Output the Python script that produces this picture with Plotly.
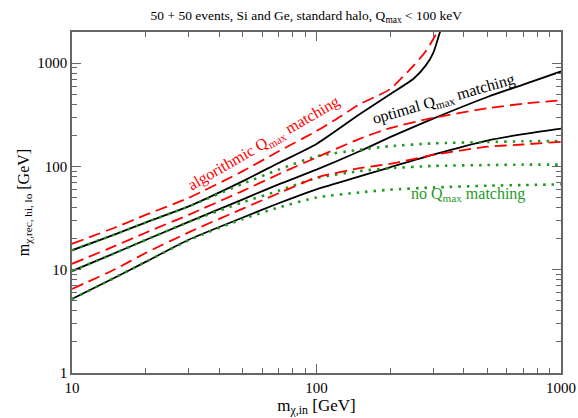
import plotly.graph_objects as go

# ---- data ----
x_std = [10, 15, 20, 30, 50, 70, 100, 150, 200, 300, 500, 700, 1000]

black_low = [5.2, 8.4, 11.9, 19.5, 32, 44, 60, 80, 98, 130, 178, 205, 232]
black_mid = [9.7, 14.5, 19.4, 29, 48, 67, 93, 140, 192, 290, 470, 620, 830]
x_black_top = [10, 15, 20, 30, 50, 70, 100, 150, 200, 250, 280, 300, 320, 340]
black_top = [15.4, 22, 28.6, 41, 72, 108, 165, 320, 500, 710, 950, 1250, 2000, 3000]

red_low = [6.5, 10.1, 14.5, 23, 39, 55, 78, 96, 106, 129, 155, 163, 173]
red_mid = [11.4, 17, 22.8, 34, 58, 84, 122, 185, 235, 295, 365, 405, 437]
x_red_top = [10, 15, 20, 30, 50, 70, 100, 120, 150, 180, 200, 250, 280, 300, 315, 330]
red_top = [17.8, 25.6, 33.9, 49.6, 90, 140, 220, 285, 400, 490, 560, 950, 1300, 1700, 2100, 2800]

green_low = [5.2, 8.4, 11.9, 19.3, 31, 40, 50, 56, 59.5, 62.5, 65, 66, 67]
green_mid = [9.7, 14.5, 19.4, 29, 45, 58, 77, 90, 96, 101, 103, 104, 104]
green_top = [15.4, 22, 28.6, 41, 68, 93, 125, 145, 157, 167, 172, 175, 176]

y_ticks = [1, 10, 100, 1000]
x_ticks = [10, 100, 1000]

FONT = "Liberation Serif"
RED = "#ff0000"
GREEN = "#1f9a1f"

fig = go.Figure()

def add(x, y, color, dash, width):
    fig.add_trace(go.Scatter(x=x, y=y, mode="lines", showlegend=False,
                             line=dict(color=color, dash=dash, width=width, shape="spline", smoothing=0.6),
                             hoverinfo="skip"))

for yy in (black_low, black_mid):
    add(x_std, yy, "black", "solid", 1.8)
add(x_black_top, black_top, "black", "solid", 1.8)
for yy in (green_low, green_mid, green_top):
    add(x_std, yy, GREEN, "2.5px,6px", 2.6)
for yy in (red_low, red_mid):
    add(x_std, yy, RED, "12px,6px", 1.8)
add(x_red_top, red_top, RED, "12px,6px", 1.8)

def minor_vals(lo, hi):
    vals = []
    d = lo
    while d < hi:
        vals += [d * k for k in range(2, 10)]
        d *= 10
    return vals

axis_common = dict(
    type="log", showgrid=False, zeroline=False, automargin=False,
    showline=True, linecolor="#666", linewidth=1.5, mirror="allticks",
    ticks="inside", ticklen=9, tickwidth=1, tickcolor="#666",
    tickfont=dict(family=FONT, size=15, color="black"),
)

fig.update_xaxes(**axis_common, range=[1, 3], tickmode="array", tickvals=x_ticks,
                 ticktext=[str(v) for v in x_ticks],
                 minor=dict(tickmode="array", tickvals=minor_vals(10, 1000), ticks="inside",
                            ticklen=5, tickcolor="#666", showgrid=False),
                 title=dict(text="m<sub>χ,in</sub> [GeV]", font=dict(family=FONT, size=17, color="black"),
                            standoff=2))
fig.update_yaxes(**axis_common, range=[0, 3.301], tickmode="array", tickvals=y_ticks,
                 ticktext=[str(v) for v in y_ticks],
                 minor=dict(tickmode="array", tickvals=minor_vals(1, 2000), ticks="inside",
                            ticklen=5, tickcolor="#666", showgrid=False),
                 title=dict(text="m<sub>χ,rec, hi, lo</sub> [GeV]", font=dict(family=FONT, size=16, color="black"),
                            standoff=4))

fig.add_annotation(x=1.787, y=2.22, xref="x", yref="y", text="algorithmic Q<sub>max</sub> matching",
                   showarrow=False, textangle=-30, font=dict(family=FONT, size=16, color=RED))
fig.add_annotation(x=2.52, y=2.65, xref="x", yref="y", text="optimal Q<sub>max</sub> matching",
                   showarrow=False, textangle=-16, font=dict(family=FONT, size=16, color="black"))
fig.add_annotation(x=2.62, y=1.73, xref="x", yref="y", text="no Q<sub>max</sub> matching",
                   showarrow=False, font=dict(family=FONT, size=16, color=GREEN))

fig.update_layout(
    width=578, height=418,
    margin=dict(l=72, r=17, t=32, b=45),
    paper_bgcolor="white", plot_bgcolor="white",
    title=dict(text="50 + 50 events, Si and Ge, standard halo, Q<sub>max</sub> < 100 keV",
               x=0.53, xanchor="center", y=0.975, yanchor="top",
               font=dict(family=FONT, size=13.5, color="black")),
)

fig.write_html("out.html")
